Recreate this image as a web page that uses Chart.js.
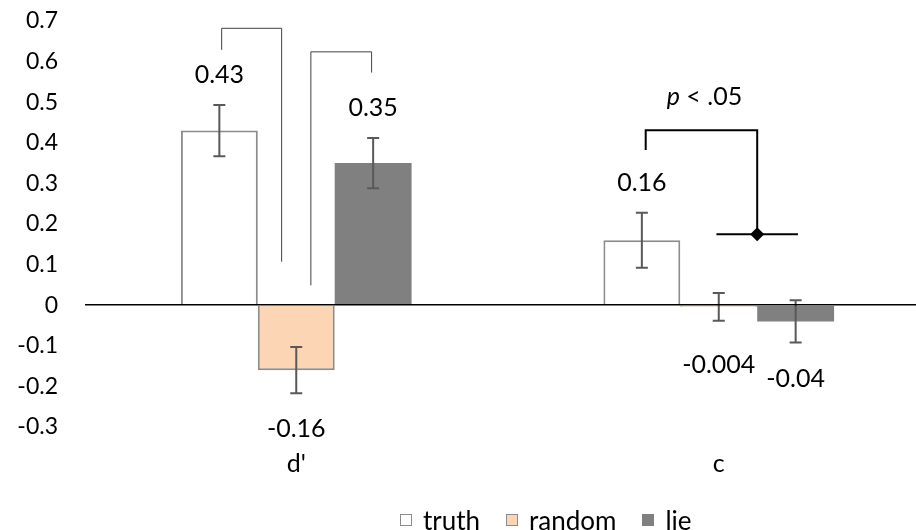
<!DOCTYPE html>
<html>
<head>
<meta charset="utf-8">
<script src="https://cdn.jsdelivr.net/npm/chart.js@4.4.1/dist/chart.umd.min.js"></script>
<style>
  html, body { margin: 0; padding: 0; background: #fff; overflow: hidden; }
  #wrap { position: relative; width: 930px; height: 530px; }
  #legend { position: absolute; left: 400px; top: 507px; display: flex; align-items: center;
            font-family: Lato, sans-serif; font-size: 26px; line-height: 26px; color: #000; white-space: nowrap; }
  .item { display: flex; align-items: center; margin-right: 26px; }
  .box { width: 10px; height: 10px; margin-right: 11px; border: 1.5px solid #8c8c8c; }
</style>
</head>
<body>
<div id="wrap">
  <canvas id="chart"></canvas>
  <div id="legend"></div>
</div>
<script>
document.addEventListener("DOMContentLoaded", function() {
    const ctx = document.getElementById("chart").getContext("2d");

    const categories = ["d'", "c"];
    const seriesNames = ["truth", "random", "lie"];
    const truth = [0.43, 0.16];
    const random = [-0.16, -0.004];
    const lie = [0.35, -0.04];
    const truthErr = [0.063, 0.068];
    const randomErr = [0.057, 0.034];
    const lieErr = [0.062, 0.052];
    const yTicks = [-0.3, -0.2, -0.1, 0, 0.1, 0.2, 0.3, 0.4, 0.5, 0.6, 0.7];

    // comparison brackets: top, left end, right end (y values)
    const bracketTop = [0.682, 0.624, 0.431];
    const bracketLeftEnd = [0.629, 0.049, 0.382];
    const bracketRightEnd = [0.107, 0.573, 0.175];
    const diffPoint = 0.175;
    const sigText = ".05";

    const fills = ["#ffffff", "#fcd5b5", "#808080"];
    const borders = ["#8c8c8c", "#8c8c8c", "#808080"];
    const values = [truth, random, lie];
    const errors = [truthErr, randomErr, lieErr];

    Chart.defaults.font.family = "Lato, sans-serif";
    Chart.defaults.color = "#000";

    const extras = {
        id: "extras",
        afterDatasetsDraw(chart) {
            const c = chart.ctx;
            const y = chart.scales.y;
            const bar = (d, i) => chart.getDatasetMeta(d).data[i];
            const bx = (d, i, f) => bar(d, i).x + f * bar(d, i).width;

            c.save();
            // error bars
            c.strokeStyle = "#595959";
            c.lineWidth = 2;
            values.forEach(function(v, d) {
                v.forEach(function(val, i) {
                    const x = bar(d, i).x;
                    const top = y.getPixelForValue(val + errors[d][i]);
                    const bot = y.getPixelForValue(val - errors[d][i]);
                    c.beginPath();
                    c.moveTo(x, top); c.lineTo(x, bot);
                    c.moveTo(x - 6, top); c.lineTo(x + 6, top);
                    c.moveTo(x - 6, bot); c.lineTo(x + 6, bot);
                    c.stroke();
                });
            });

            // value labels
            c.fillStyle = "#000";
            c.font = "25px Lato, sans-serif";
            c.textAlign = "center";
            c.textBaseline = "middle";
            values.forEach(function(v, d) {
                v.forEach(function(val, i) {
                    const x = bar(d, i).x;
                    let ty;
                    if (val >= 0) {
                        ty = y.getPixelForValue(val + errors[d][i]) - 30;
                    } else {
                        ty = y.getPixelForValue(val - errors[d][i]) + 36;
                        if (d === 1 && i === 1) ty += 8;
                    }
                    c.fillText(String(val), x, ty);
                });
            });

            // brackets
            const ends = [
                [[0, 0, 0.03], [1, 0, -0.19]],
                [[1, 0, 0.19], [2, 0, -0.02]],
                [[0, 1, 0.05], [1, 1, 0.5]]
            ];
            ends.forEach(function(e, k) {
                const x1 = bx(e[0][0], e[0][1], e[0][2]);
                const x2 = bx(e[1][0], e[1][1], e[1][2]);
                c.strokeStyle = k < 2 ? "#404040" : "#000";
                c.lineWidth = k < 2 ? 1 : 2;
                c.beginPath();
                c.moveTo(x1, y.getPixelForValue(bracketLeftEnd[k]));
                c.lineTo(x1, y.getPixelForValue(bracketTop[k]));
                c.lineTo(x2, y.getPixelForValue(bracketTop[k]));
                c.lineTo(x2, y.getPixelForValue(bracketRightEnd[k]));
                c.stroke();
            });

            // difference marker with horizontal bar
            const dx = bx(1, 1, 0.5);
            const dy = y.getPixelForValue(diffPoint);
            const span = 0.53 * bar(1, 1).width;
            c.strokeStyle = "#000";
            c.lineWidth = 2;
            c.beginPath();
            c.moveTo(dx - span, dy); c.lineTo(dx + span, dy);
            c.stroke();
            c.fillStyle = "#000";
            c.beginPath();
            c.moveTo(dx, dy - 7); c.lineTo(dx + 7, dy); c.lineTo(dx, dy + 7); c.lineTo(dx - 7, dy);
            c.closePath();
            c.fill();

            // p < .05
            const px = (bx(0, 1, 0.05) + bx(1, 1, 0.5)) / 2 + 3;
            const py = y.getPixelForValue(0.513);
            c.textBaseline = "middle";
            c.textAlign = "left";
            c.font = "italic 25px Lato, sans-serif";
            const wp = c.measureText("p").width;
            c.font = "25px Lato, sans-serif";
            const rest = " < " + sigText;
            const wr = c.measureText(rest).width;
            const sx = px - (wp + wr) / 2;
            c.font = "italic 25px Lato, sans-serif";
            c.fillText("p", sx, py);
            c.font = "25px Lato, sans-serif";
            c.fillText(rest, sx + wp, py);
            c.restore();
        }
    };

    const chart = new Chart(ctx, {
        type: "bar",
        data: {
            labels: categories,
            datasets: seriesNames.map(function(name, d) {
                return {
                    label: name,
                    data: values[d],
                    backgroundColor: fills[d],
                    borderColor: borders[d],
                    borderWidth: d === 2 ? 0 : 2,
                    categoryPercentage: 0.546,
                    barPercentage: 1.0
                };
            })
        },
        options: {
            responsive: true,
            maintainAspectRatio: false,
            animation: false,
            layout: { padding: { top: 21, bottom: 43, left: 0, right: 0 } },
            plugins: {
                legend: { display: false },
                tooltip: { enabled: false }
            },
            scales: {
                x: {
                    grid: { display: false, drawTicks: false },
                    border: { display: false },
                    afterFit: function(scale) {
                        scale.height = 60;
                        scale.paddingLeft = 0;
                        scale.paddingRight = 0;
                    },
                    ticks: { padding: 22, font: { size: 25 } }
                },
                y: {
                    min: -0.3,
                    max: 0.7,
                    afterFit: function(scale) {
                        scale.width = 85;
                        scale.paddingTop = 0;
                        scale.paddingBottom = 0;
                    },
                    afterBuildTicks: function(scale) {
                        scale.ticks = yTicks.map(function(v) { return { value: v }; });
                    },
                    border: { display: false },
                    grid: {
                        z: 1,
                        drawTicks: false,
                        lineWidth: 1.5,
                        color: function(c) {
                            return c.tick && Math.abs(c.tick.value) < 1e-9 ? "#000" : "rgba(0,0,0,0)";
                        }
                    },
                    ticks: {
                        padding: 27,
                        font: { size: 23 },
                        callback: function(v) { return String(Math.round(v * 10) / 10); }
                    }
                }
            }
        },
        plugins: [extras]
    });

    const legend = document.getElementById("legend");
    seriesNames.forEach(function(name, d) {
        const item = document.createElement("div");
        item.className = "item";
        const box = document.createElement("span");
        box.className = "box";
        box.style.background = fills[d];
        box.style.borderColor = d === 2 ? fills[d] : borders[d];
        const txt = document.createElement("span");
        txt.textContent = name;
        item.appendChild(box);
        item.appendChild(txt);
        legend.appendChild(item);
    });
});
</script>
</body>
</html>
